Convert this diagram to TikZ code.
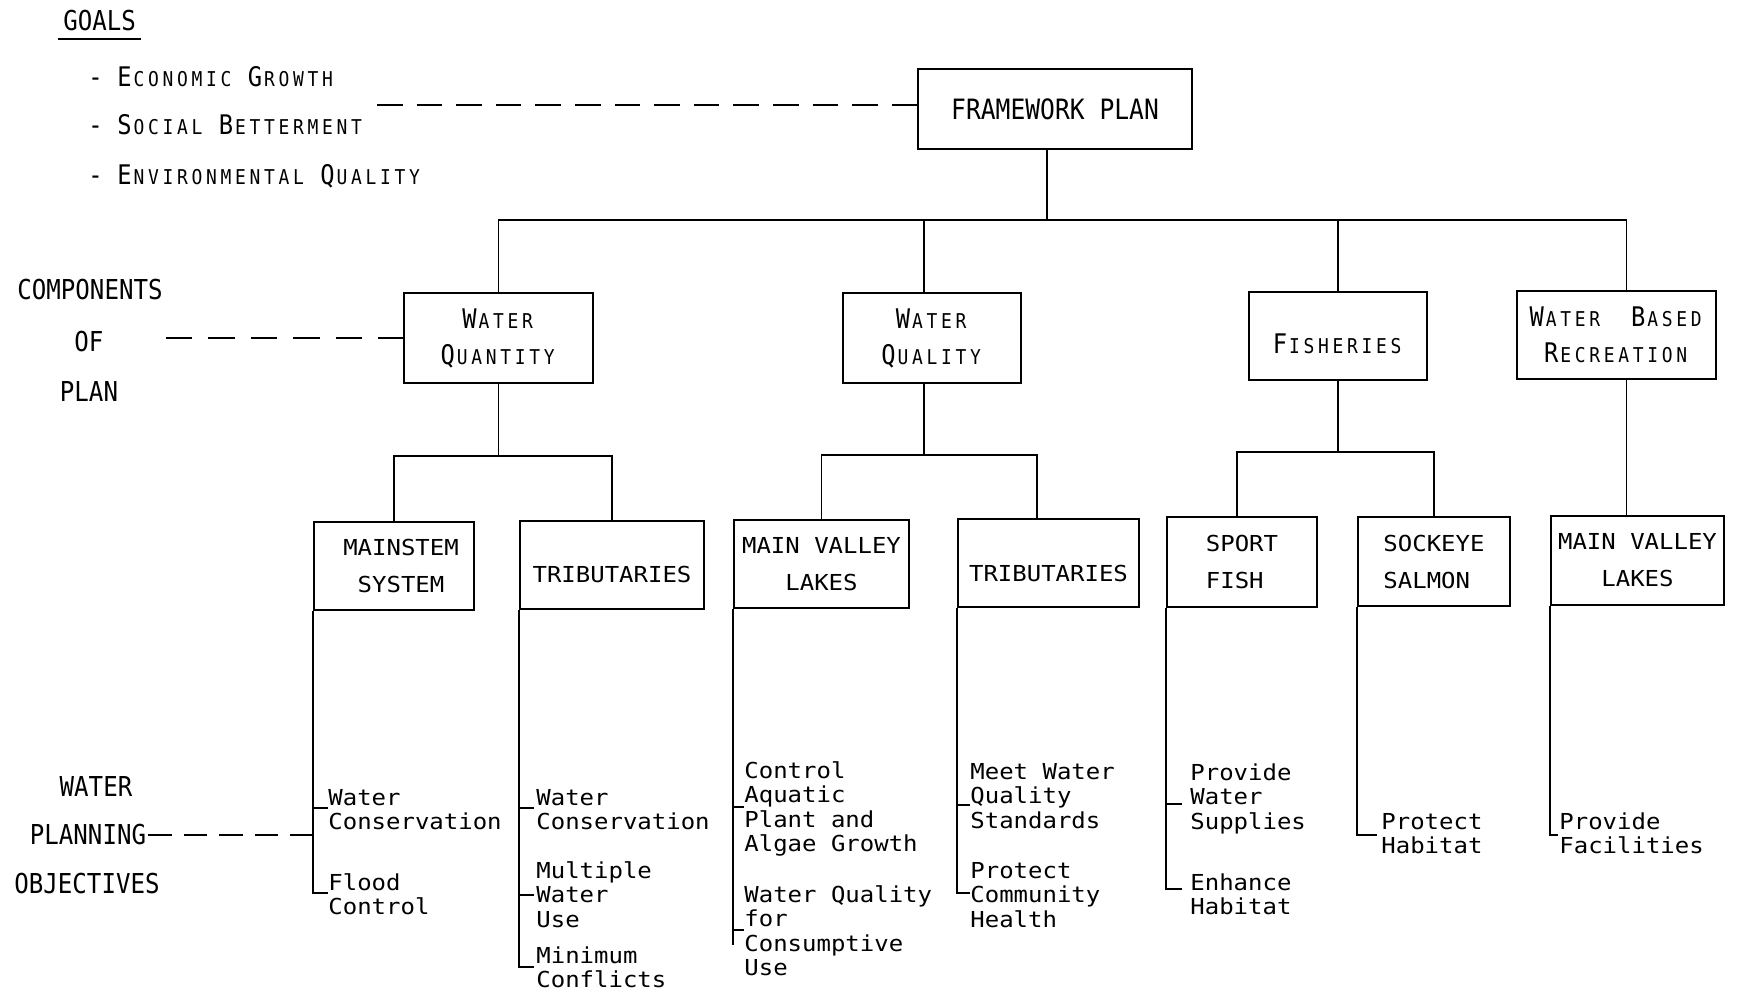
\documentclass[tikz,border=0pt]{standalone}
\usepackage{fontspec}
\newfontfamily\lett[FakeStretch=0.88]{DejaVu Sans Mono}
\newfontfamily\tw[FakeStretch=1.09]{DejaVu Sans Mono}
\usetikzlibrary{calc}
\newlength\advU
\setlength\advU{7.25pt}
\newcommand\bigU{\lett\fontsize{13.5}{16}\selectfont}
\newcommand\smlU{\lett\fontsize{10.2}{12}\selectfont}
\newcommand\spc{\hspace*{\advU}}
\ExplSyntaxOn
\NewDocumentCommand\scw{mm}{\makebox[\advU]{\bigU #1}\tl_map_inline:nn{#2}{\makebox[\advU]{\smlU ##1}}}
\ExplSyntaxOff
\newcommand\ml[1]{\vtop{\baselineskip=12.25pt\lineskiplimit=-20pt\lineskip=0pt\halign{##\hfil\cr#1\crcr}}}
\begin{document}
\begin{tikzpicture}[x=0.5pt,y=-0.5pt,
  bx/.style={draw,line width=1.1pt,inner sep=0pt,align=center},
  tbx/.style={bx,font={\tw\fontsize{11}{18.5}\selectfont}},
  ubx/.style={bx,font={\lett\fontsize{13.5}{18}\selectfont}},
  ln/.style={line width=0.9pt},
  dsh/.style={line width=0.9pt},
  obj/.style={anchor=base west,inner sep=0pt,font={\tw\fontsize{11}{12.25}\selectfont}},
  lab/.style={anchor=base,inner sep=0pt,font={\lett\fontsize{13.7}{16}\selectfont}},
  gl/.style={anchor=base west,inner sep=0pt}]
\fill[white] (0,0) rectangle (1739,994);
\useasboundingbox (0,0) rectangle (1739,994);

% ---------- left labels ----------
\node[anchor=base west,inner xsep=2.5pt,inner ysep=3.5pt,font={\lett\fontsize{13.7}{16}\selectfont}] (goals) at (58,31) {GOALS};
\draw[line width=1pt] (goals.south west) -- (goals.south east);
\node[gl] (g1) at (88,87) {\makebox[\advU]{\bigU -}\spc\scw{E}{CONOMIC}\spc\scw{G}{ROWTH}};
\node[gl] (g2) at (88,135) {\makebox[\advU]{\bigU -}\spc\scw{S}{OCIAL}\spc\scw{B}{ETTERMENT}};
\node[gl] (g3) at (88,185) {\makebox[\advU]{\bigU -}\spc\scw{E}{NVIRONMENTAL}\spc\scw{Q}{UALITY}};

\node[lab] (c1) at (90,300) {COMPONENTS};
\node[lab] (c2) at (89,352) {OF};
\node[lab] (c3) at (89,401) {PLAN};

\node[lab] (p1) at (96,796) {WATER};
\node[lab] (p2) at (88,844) {PLANNING};
\node[lab] (p3) at (87,893) {OBJECTIVES};

% ---------- boxes ----------
\node[bx,minimum width=137pt,minimum height=40pt,font={\lett\fontsize{14}{16}\selectfont}] (fw) at (1055,109) {FRAMEWORK PLAN};

\node[ubx,minimum width=94.5pt,minimum height=45pt] (wqty) at (498.5,338) {\scw{W}{ATER}\\\scw{Q}{UANTITY}};
\node[ubx,minimum width=89pt,minimum height=45pt] (wqual) at (932,338) {\scw{W}{ATER}\\\scw{Q}{UALITY}};
\node[ubx,minimum width=89pt,minimum height=44pt] (fish) at (1338,336) {\raisebox{-9pt}[0pt][0pt]{\scw{F}{ISHERIES}}};
\node[ubx,minimum width=99.5pt,minimum height=44pt] (wbr) at (1616.5,335) {\scw{W}{ATER}\spc\spc\scw{B}{ASED}\\\scw{R}{ECREATION}};

\node[tbx,minimum width=80pt,minimum height=44pt] (ms) at (394,566) {\hspace*{7pt}MAINSTEM\\\hspace*{7pt}SYSTEM};
\node[tbx,minimum width=92pt,minimum height=44pt] (tr1) at (612,565) {\raisebox{-8.5pt}[0pt][0pt]{TRIBUTARIES}};
\node[tbx,minimum width=87.5pt,minimum height=44pt] (mvl1) at (821.5,564) {MAIN VALLEY\\LAKES};
\node[tbx,minimum width=90.5pt,minimum height=44pt] (tr2) at (1048.5,563) {\raisebox{-9pt}[0pt][0pt]{TRIBUTARIES}};
\node[tbx,align=left,minimum width=75pt,minimum height=45pt] (sf) at (1242,562) {SPORT\\FISH};
\node[tbx,align=left,minimum width=76pt,minimum height=44.5pt] (ss) at (1434,561.5) {SOCKEYE\\SALMON};
\node[tbx,minimum width=86.5pt,minimum height=44.5pt] (mvl2) at (1637.5,560.5) {MAIN VALLEY\\LAKES};

% ---------- objectives ----------
\node[obj] (ms-o1) at (328,805) {\ml{Water\cr Conservation}};
\node[obj] (ms-o2) at (328,890) {\ml{Flood\cr Control}};
\node[obj] (tr1-o1) at (536,805) {\ml{Water\cr Conservation}};
\node[obj] (tr1-o2) at (536,878) {\ml{Multiple\cr Water\cr Use}};
\node[obj] (tr1-o3) at (536,963) {\ml{Minimum\cr Conflicts}};
\node[obj] (mvl1-o1) at (744,778) {\ml{Control\cr Aquatic\cr Plant and\cr Algae Growth}};
\node[obj] (mvl1-o2) at (744,902) {\ml{Water Quality\cr for\cr Consumptive\cr Use}};
\node[obj] (tr2-o1) at (970,779) {\ml{Meet Water\cr Quality\cr Standards}};
\node[obj] (tr2-o2) at (970,878) {\ml{Protect\cr Community\cr Health}};
\node[obj] (sf-o1) at (1190,780) {\ml{Provide\cr Water\cr Supplies}};
\node[obj] (sf-o2) at (1190,890) {\ml{Enhance\cr Habitat}};
\node[obj] (ss-o1) at (1381,829) {\ml{Protect\cr Habitat}};
\node[obj] (mvl2-o1) at (1559,829) {\ml{Provide\cr Facilities}};

% ---------- dashed leaders ----------
\coordinate (gle) at (377,105);
\draw[dsh,dash pattern=on 12.8pt off 7pt] (gle) -- (gle -| fw.west);
\coordinate (cle) at (166,338);
\draw[dsh,dash pattern=on 13.2pt off 8pt] (cle) -- (cle -| wqty.west);
\coordinate (ple) at (148,835);
\draw[dsh,dash pattern=on 11.8pt off 6pt] (ple) -- (ple -| ms.south west);

% ---------- tree: level 1 ----------
\coordinate (b1) at (0,220);
\coordinate (fwS) at ($(fw.south)+(-8,0)$);
\coordinate (wqualN) at ($(wqual.north)+(-8,0)$);
\coordinate (wbrN) at ($(wbr.north)+(10,0)$);
\draw[ln] (fwS) -- (fwS |- b1);
\draw[ln] (wqty.north) -- (wqty.north |- b1) -- (wbrN |- b1) -- (wbrN);
\draw[ln] (wqualN) -- (wqualN |- b1);
\draw[ln] (fish.north) -- (fish.north |- b1);

% ---------- tree: level 2 ----------
\coordinate (b2a) at (0,456);
\draw[ln] (wqty.south) -- (wqty.south |- b2a);
\draw[ln] (ms.north) -- (ms.north |- b2a) -- (tr1.north |- b2a) -- (tr1.north);

\coordinate (b2b) at (0,455);
\coordinate (wqualS) at ($(wqual.south)+(-8,0)$);
\coordinate (tr2N) at ($(tr2.north)+(-11.5,0)$);
\draw[ln] (wqualS) -- (wqualS |- b2b);
\draw[ln] (mvl1.north) -- (mvl1.north |- b2b) -- (tr2N |- b2b) -- (tr2N);

\coordinate (b2c) at (0,452);
\coordinate (sfN) at ($(sf.north)+(-5,0)$);
\draw[ln] (fish.south) -- (fish.south |- b2c);
\draw[ln] (sfN) -- (sfN |- b2c) -- (ss.north |- b2c) -- (ss.north);

\coordinate (wbrS) at ($(wbr.south)+(10,0)$);
\draw[ln] (wbrS) -- (wbrS |- mvl2.north);

% ---------- objective connectors ----------
\coordinate (ms-t1) at (328,808);
\coordinate (ms-t2) at (328,893);
\draw[ln] (ms.south west) |- (ms-t2);
\draw[ln] (ms-t1) -- (ms-t1 -| ms.south west);

\coordinate (tr1-t1) at (534,808);
\coordinate (tr1-t2) at (534,895);
\coordinate (tr1-t3) at (534,967);
\draw[ln] (tr1.south west) |- (tr1-t3);
\draw[ln] (tr1-t1) -- (tr1-t1 -| tr1.south west);
\draw[ln] (tr1-t2) -- (tr1-t2 -| tr1.south west);

\coordinate (mvl1-t1) at (744,807);
\coordinate (mvl1-t2) at (744,930);
\coordinate (mvl1-e) at (734,945);
\draw[ln] (mvl1.south west) -- (mvl1.south west |- mvl1-e);
\draw[ln] (mvl1-t1) -- (mvl1-t1 -| mvl1.south west);
\draw[ln] (mvl1-t2) -- (mvl1-t2 -| mvl1.south west);

\coordinate (tr2-t1) at (970,805);
\coordinate (tr2-t2) at (970,893);
\draw[ln] (tr2.south west) |- (tr2-t2);
\draw[ln] (tr2-t1) -- (tr2-t1 -| tr2.south west);

\coordinate (sf-t1) at (1182,804);
\coordinate (sf-t2) at (1182,889);
\draw[ln] (sf.south west) |- (sf-t2);
\draw[ln] (sf-t1) -- (sf-t1 -| sf.south west);

\coordinate (ss-t1) at (1377,835);
\draw[ln] (ss.south west) |- (ss-t1);

\coordinate (mvl2-t1) at (1558,835);
\draw[ln] (mvl2.south west) |- (mvl2-t1);
\end{tikzpicture}
\end{document}
